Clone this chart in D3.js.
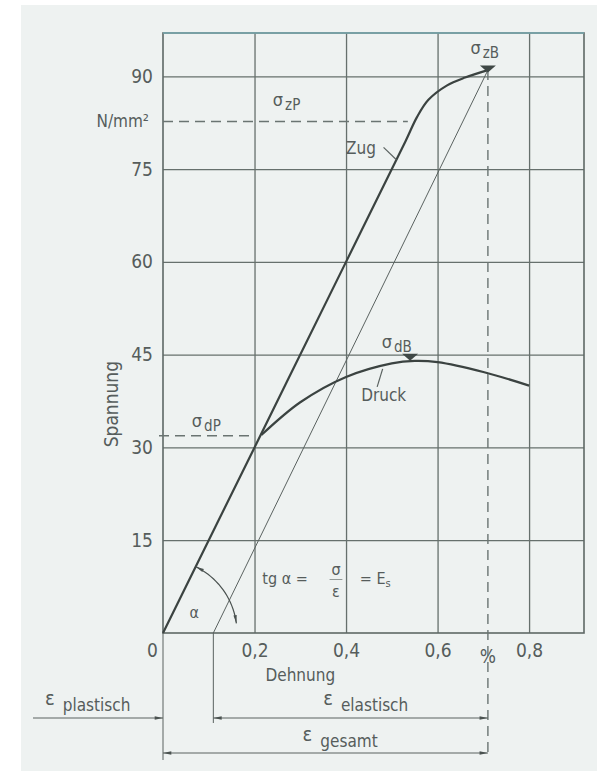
<!DOCTYPE html>
<html>
<head>
<meta charset="utf-8">
<script src="https://cdn.jsdelivr.net/npm/d3@7"></script>
<style>
  html, body { margin: 0; padding: 0; background: #ffffff; }
  text { font-family: "DejaVu Sans Condensed", "DejaVu Sans", sans-serif; font-stretch: condensed; fill: #565d5c; }
  .grid line { stroke: #66706d; stroke-width: 1.3; }
  .grid .domain { display: none; }
</style>
</head>
<body>
<div id="chart"></div>
<script>
// --------------------------------------
//  Data
// --------------------------------------

const zugX = [0, 0.2, 0.4, 0.53, 0.555, 0.58, 0.62, 0.66, 0.71];
const zugY = [0, 30, 60, 79.5, 83.4, 86.2, 88.5, 89.8, 91];

const druckX = [0.215, 0.3, 0.4, 0.5, 0.55, 0.6, 0.7, 0.8];
const druckY = [32, 37.3, 41.4, 43.6, 44, 43.8, 42.2, 40];

const elastX = [0.11, 0.71];
const elastY = [0, 91];

const yTicks = [15, 30, 45, 60, 75, 90];
const xTicks = [0, 0.2, 0.4, 0.6, 0.8];

const sigmaZP = 82.7, sigmaDP = 31.9;
const epsPlast = 0.11, epsTotal = 0.71;

// --------------------------------------
//  Canvas
// --------------------------------------

const width = 597, height = 771;
const margin = { top: 33, right: 13, bottom: 138, left: 163 };
const innerwidth = width - margin.left - margin.right;
const innerheight = height - margin.top - margin.bottom;

const svg = d3.select("#chart").append("svg")
  .attr("width", width).attr("height", height)
  .attr("viewBox", [0, 0, width, height]);

svg.append("rect").attr("x", 21).attr("y", 5)
  .attr("width", width - 21).attr("height", height - 5)
  .attr("fill", "#eef2f1");

const defs = svg.append("defs");
defs.append("marker").attr("id", "arr")
  .attr("viewBox", "0 0 10 6").attr("refX", 10).attr("refY", 3)
  .attr("markerWidth", 10).attr("markerHeight", 5).attr("markerUnits", "userSpaceOnUse")
  .attr("orient", "auto-start-reverse")
  .append("path").attr("d", "M0,1 L10,3 L0,5 Z").attr("fill", "#4a5250");

const g = svg.append("g").attr("transform", `translate(${margin.left}, ${margin.top})`);

// --------------------------------------
//  Scales
// --------------------------------------

const x = d3.scaleLinear([0, 0.92], [0, innerwidth]);
const y = d3.scaleLinear([0, 97], [innerheight, 0]);

// --------------------------------------
//  Grid + axes
// --------------------------------------

const yAxis = g.append("g").attr("class", "grid")
  .call(d3.axisLeft(y).tickValues(yTicks).tickSize(-innerwidth).tickPadding(10));
yAxis.selectAll("text").attr("font-size", 19);

const xAxis = g.append("g").attr("class", "grid")
  .attr("transform", `translate(0, ${innerheight})`)
  .call(d3.axisBottom(x).tickValues(xTicks).tickSize(-innerheight).tickPadding(11)
    .tickFormat(d => d === 0 ? "0" : d3.format(".1f")(d).replace(".", ",")));
xAxis.selectAll("text").attr("font-size", 19);
xAxis.selectAll(".tick").filter(d => d === 0).select("text").attr("dx", -11);
xAxis.selectAll(".tick").filter(d => d === 0).select("line").remove();

// frame
g.append("rect").attr("width", innerwidth).attr("height", innerheight)
  .attr("fill", "none").attr("stroke", "#5e6866").attr("stroke-width", 1.6);
g.append("line").attr("x1", 0).attr("x2", innerwidth).attr("y1", 0).attr("y2", 0)
  .attr("stroke", "#78aab0").attr("stroke-width", 1.6);

g.append("text").attr("x", x(epsTotal)).attr("y", innerheight + 30)
  .attr("text-anchor", "middle").attr("font-size", 19).text("%");

g.append("text").attr("x", -14).attr("y", y(sigmaZP) + 6)
  .attr("text-anchor", "end").attr("font-size", 17).text("N/mm²");

g.append("text").attr("x", x(0.3)).attr("y", innerheight + 48)
  .attr("text-anchor", "middle").attr("font-size", 17).text("Dehnung");

g.append("text").attr("transform", `translate(${-45}, ${y(37)}) rotate(-90)`)
  .attr("text-anchor", "middle").attr("font-size", 19).text("Spannung");

// --------------------------------------
//  Curves
// --------------------------------------

const line = d3.line().x(d => x(d[0])).y(d => y(d[1])).curve(d3.curveCatmullRom.alpha(0.5));

g.append("path").datum(d3.zip(elastX, elastY))
  .attr("d", d3.line().x(d => x(d[0])).y(d => y(d[1])))
  .attr("fill", "none").attr("stroke", "#5a6260").attr("stroke-width", 1);

g.append("path").datum(d3.zip(zugX, zugY)).attr("d", line)
  .attr("fill", "none").attr("stroke", "#3b4341").attr("stroke-width", 2.2);

g.append("path").datum(d3.zip(druckX, druckY)).attr("d", line)
  .attr("fill", "none").attr("stroke", "#3b4341").attr("stroke-width", 2.2);

// dashed helpers
const dash = { stroke: "#6a7472", "stroke-width": 1.4, "stroke-dasharray": "10,6" };
function dline(x1, y1, x2, y2) {
  const l = g.append("line").attr("x1", x1).attr("y1", y1).attr("x2", x2).attr("y2", y2);
  Object.entries(dash).forEach(([k, v]) => l.attr(k, v));
  return l;
}
dline(0, y(sigmaZP), x(0.535), y(sigmaZP));
dline(-4, y(sigmaDP), x(0.2), y(sigmaDP));
dline(x(epsTotal), y(91), x(epsTotal), innerheight + 120);

// peak markers
function peak(px, py) {
  g.append("path")
    .attr("d", `M${px - 8},${py - 7} L${px + 8},${py - 7} L${px},${py} Z`)
    .attr("fill", "#3f4846");
}
peak(x(0.71), y(90.6));
peak(x(0.54), y(44));

// labels with subscripts
function sigma(px, py, sub) {
  const t = g.append("text").attr("x", px).attr("y", py).attr("font-size", 18);
  t.append("tspan").text("σ");
  t.append("tspan").attr("dy", 4).attr("font-size", 15).attr("dx", 2).text(sub);
}
sigma(x(0.24), y(sigmaZP) - 15, "zP");
sigma(x(0.672), y(91) - 16, "zB");
sigma(x(0.478), y(44) - 13, "dB");
sigma(x(0.063), y(sigmaDP) - 9, "dP");

g.append("text").attr("x", x(0.4)).attr("y", y(77.5)).attr("font-size", 17).text("Zug");
g.append("line").attr("x1", x(0.482)).attr("y1", y(78.5)).attr("x2", x(0.51)).attr("y2", y(76.5))
  .attr("stroke", "#5a6260").attr("stroke-width", 1.2);

g.append("text").attr("x", x(0.433)).attr("y", y(37.5)).attr("font-size", 17).text("Druck");
g.append("line").attr("x1", x(0.468)).attr("y1", y(39.8)).attr("x2", x(0.48)).attr("y2", y(42.7))
  .attr("stroke", "#5a6260").attr("stroke-width", 1.2);

// --------------------------------------
//  Angle alpha + formula
// --------------------------------------

const ang0 = Math.atan2(y(0) - y(30), x(0.2) - x(0));
const rad = 74;
const arcPts = d3.range(0, 21).map(i => {
  const a = ang0 - (ang0 - 0.13) * i / 20;
  return [x(0) + rad * Math.cos(a), y(0) - rad * Math.sin(a)];
});
g.append("path").attr("d", d3.line()(arcPts))
  .attr("fill", "none").attr("stroke", "#4a5250").attr("stroke-width", 1.2)
  .attr("marker-start", "url(#arr)").attr("marker-end", "url(#arr)");

g.append("text").attr("x", x(0.058)).attr("y", y(2.5)).attr("font-size", 16).text("α");

const fy = y(8);
g.append("text").attr("x", x(0.217)).attr("y", fy).attr("font-size", 16).text("tg α  =");
g.append("text").attr("x", x(0.378)).attr("y", fy - 9).attr("text-anchor", "middle").attr("font-size", 16).text("σ");
g.append("text").attr("x", x(0.378)).attr("y", fy + 13).attr("text-anchor", "middle").attr("font-size", 16).text("ε");
g.append("line").attr("x1", x(0.364)).attr("x2", x(0.392)).attr("y1", fy - 4).attr("y2", fy - 4)
  .attr("stroke", "#7a8280").attr("stroke-width", 0.8);
const es = g.append("text").attr("x", x(0.43)).attr("y", fy).attr("font-size", 16);
es.append("tspan").text("=  E");
es.append("tspan").attr("dy", 3).attr("font-size", 11).text("s");

// --------------------------------------
//  Strain dimensions below
// --------------------------------------

const dimStroke = "#5a6260";
const yEl = innerheight + 85, yGe = innerheight + 120;

g.append("line").attr("x1", x(0)).attr("x2", x(0)).attr("y1", innerheight).attr("y2", yGe + 7)
  .attr("stroke", dimStroke).attr("stroke-width", 1);
g.append("line").attr("x1", x(epsPlast)).attr("x2", x(epsPlast)).attr("y1", innerheight).attr("y2", yEl + 5)
  .attr("stroke", dimStroke).attr("stroke-width", 1);

// plastisch
g.append("line").attr("x1", -130).attr("x2", x(0)).attr("y1", yEl).attr("y2", yEl)
  .attr("stroke", dimStroke).attr("stroke-width", 1).attr("marker-end", "url(#arr)");
// elastisch
g.append("line").attr("x1", x(epsPlast)).attr("x2", x(epsTotal)).attr("y1", yEl).attr("y2", yEl)
  .attr("stroke", dimStroke).attr("stroke-width", 1)
  .attr("marker-start", "url(#arr)").attr("marker-end", "url(#arr)");
// gesamt
g.append("line").attr("x1", x(0)).attr("x2", x(epsTotal)).attr("y1", yGe).attr("y2", yGe)
  .attr("stroke", dimStroke).attr("stroke-width", 1)
  .attr("marker-start", "url(#arr)").attr("marker-end", "url(#arr)");

function epsLabel(px, py, word) {
  const t = g.append("text").attr("x", px).attr("y", py).attr("font-size", 20);
  t.append("tspan").text("ε");
  t.append("tspan").attr("dx", 8).attr("dy", 6).attr("font-size", 17).text(word);
}
epsLabel(-118, yEl - 13, "plastisch");
epsLabel(x(0.35), yEl - 13, "elastisch");
epsLabel(x(0.305), yGe - 12, "gesamt");
</script>
</body>
</html>
